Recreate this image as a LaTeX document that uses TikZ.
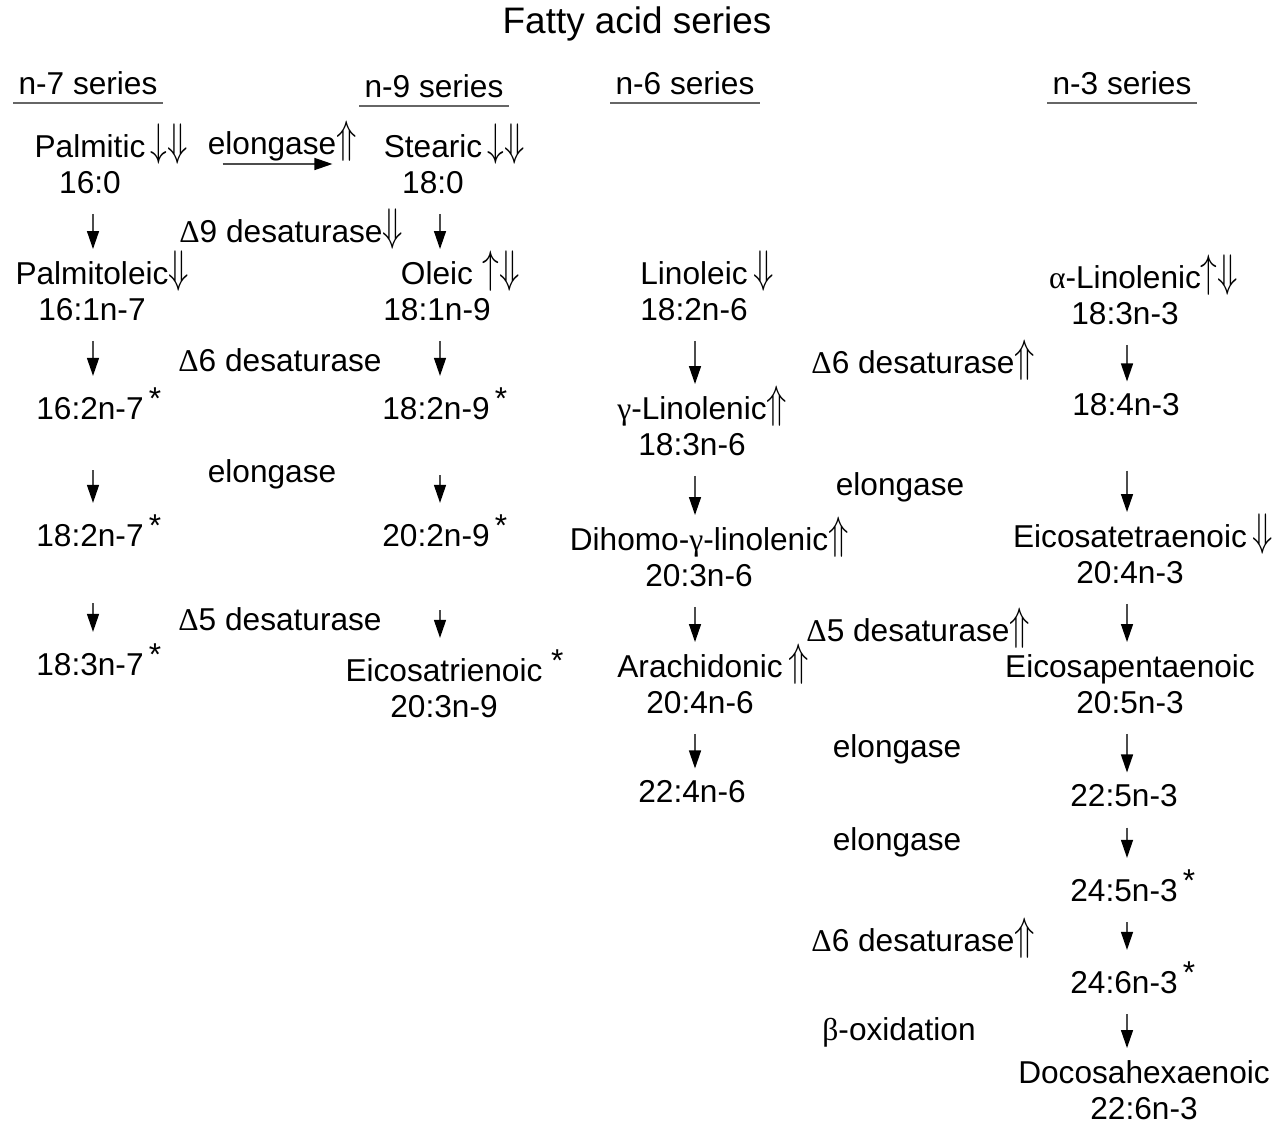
\documentclass[tikz,border=0pt]{standalone}
\usepackage{fontspec}
\setmainfont{Liberation Sans}
\newfontfamily\grkfont{Liberation Serif}
\usepackage{tikz}
\usetikzlibrary{arrows.meta, calc}

\newcommand{\fs}{\fontsize{18}{20.5}\selectfont}
\newcommand{\gr}[1]{{\grkfont #1}}
\newcommand{\reg}[1]{\rlap{\smash{\raisebox{0.05em}{\scalebox{1.1}[1.5]{$#1$}}}}}
\newcommand{\nstar}{\rlap{\,\raisebox{.3em}{*}}}

\begin{document}
\begin{tikzpicture}[x=0.02cm, y=-0.02cm,
  fa/.style={align=center, inner sep=0pt, font=\fs},
  enz/.style={inner sep=0pt, font=\fs},
  hdr/.style={font=\fs, inner xsep=0.1cm, inner ysep=0.17cm},
  uline/.style={draw=black!60, line width=1.1pt},
  conv/.style={-{Triangle[length=3.6mm,width=2.4mm,color=black]}, draw=black!70,
    line width=0.8pt, shorten <=4mm, shorten >=2.4mm}]
  \useasboundingbox (0,0) rectangle (1280,1136);

  % title and series
  \node[font=\fontsize{21}{24}\selectfont] (title) at (637,24) {Fatty acid series};
  \node[hdr] (h7) at (88,83) {n-7 series};
  \node[hdr] (h9) at (434,86) {n-9 series};
  \node[hdr] (h6) at (685,83) {n-6 series};
  \node[hdr] (h3) at (1122,83) {n-3 series};
  \draw[uline] (h7.south west) -- (h7.south east);
  \draw[uline] (h9.south west) -- (h9.south east);
  \draw[uline] (h6.south west) -- (h6.south east);
  \draw[uline] (h3.south west) -- (h3.south east);

  % columns
  \coordinate (c7) at (93,0);
  \coordinate (c9) at (440,0);
  \coordinate (c6) at (695,0);
  \coordinate (c3) at (1127,0);

  % n-7
  \node[fa] (palm) at (90,164) {Palmitic\reg{\,\downarrow\Downarrow}\\16:0};
  \node[fa] (ptol) at (92,291) {Palmitoleic\reg{\Downarrow}\\16:1n-7};
  \node[fa] (a162) at (90,404) {16:2n-7\nstar};
  \node[fa] (a182) at (90,531) {18:2n-7\nstar};
  \node[fa] (a183) at (90,660) {18:3n-7\nstar};

  % n-9
  \node[fa] (stear) at (433,164) {Stearic\reg{\,\downarrow\Downarrow}\\18:0};
  \node[fa] (oleic) at (437,291) {Oleic\reg{\ \uparrow\Downarrow}\\18:1n-9};
  \node[fa] (b182) at (436,404) {18:2n-9\nstar};
  \node[fa] (b202) at (436,531) {20:2n-9\nstar};
  \node[fa] (eitri) at (444,684) {Eicosatrienoic\rlap{\ \raisebox{.3em}{*}}\\20:3n-9};

  % n-6
  \node[fa] (linol) at (694,291) {Linoleic\reg{\,\Downarrow}\\18:2n-6};
  \node[fa] (gla) at (692,426) {\gr{γ}-Linolenic\reg{\Uparrow}\\18:3n-6};
  \node[fa] (dgla) at (699,557) {Dihomo-\gr{γ}-linolenic\reg{\Uparrow}\\20:3n-6};
  \node[fa] (arach) at (700,684) {Arachidonic\reg{\,\Uparrow}\\20:4n-6};
  \node[fa] (c224) at (692,792) {22:4n-6};

  % n-3
  \node[fa] (ala) at (1125,295) {\gr{α}-Linolenic\reg{\uparrow\Downarrow}\\18:3n-3};
  \node[fa] (d184) at (1126,405) {18:4n-3};
  \node[fa] (eta) at (1130,554) {Eicosatetraenoic\reg{\,\Downarrow}\\20:4n-3};
  \node[fa] (epa) at (1130,684) {Eicosapentaenoic\\20:5n-3};
  \node[fa] (dpa) at (1124,796) {22:5n-3};
  \node[fa] (d245) at (1124,886) {24:5n-3\nstar};
  \node[fa] (d246) at (1124,978) {24:6n-3\nstar};
  \node[fa] (dha) at (1144,1090) {Docosahexaenoic\\22:6n-3};

  % enzymes
  \node[enz] (elo1) at (272,146) {elongase\reg{\Uparrow}};
  \node[enz] (des9) at (281,231) {\gr{Δ}9 desaturase\reg{\Downarrow}};
  \node[enz] (des6a) at (280,360) {\gr{Δ}6 desaturase};
  \node[enz] (elo2) at (272,474) {elongase};
  \node[enz] (des5a) at (280,619) {\gr{Δ}5 desaturase};
  \node[enz] (des6b) at (913,362) {\gr{Δ}6 desaturase\reg{\Uparrow}};
  \node[enz] (elo3) at (900,487) {elongase};
  \node[enz] (des5b) at (908,630) {\gr{Δ}5 desaturase\reg{\Uparrow}};
  \node[enz] (elo4) at (897,749) {elongase};
  \node[enz] (elo5) at (897,842) {elongase};
  \node[enz] (des6c) at (913,940) {\gr{Δ}6 desaturase\reg{\Uparrow}};
  \node[enz] (boxi) at (899,1032) {\gr{β}-oxidation};

  % conversions
  \draw[conv, shorten <=1.54cm, shorten >=1.02cm] (palm) -- (stear);
  \draw[conv] (palm.south -| c7) -- (ptol.north -| c7);
  \draw[conv] (ptol.south -| c7) -- (a162.north -| c7);
  \draw[conv, shorten <=1cm] (a162.south -| c7) -- (a182.north -| c7);
  \draw[conv, shorten <=1.12cm] (a182.south -| c7) -- (a183.north -| c7);

  \draw[conv] (stear.south -| c9) -- (oleic.north -| c9);
  \draw[conv] (oleic.south -| c9) -- (b182.north -| c9);
  \draw[conv, shorten <=1.1cm] (b182.south -| c9) -- (b202.north -| c9);
  \draw[conv, shorten <=1.26cm] (b202.south -| c9) -- (eitri.north -| c9);

  \draw[conv] (linol.south -| c6) -- (gla.north -| c6);
  \draw[conv] (gla.south -| c6) -- (dgla.north -| c6);
  \draw[conv] (dgla.south -| c6) -- (arach.north -| c6);
  \draw[conv] (arach.south -| c6) -- (c224.north -| c6);

  \draw[conv] (ala.south -| c3) -- (d184.north -| c3);
  \draw[conv, shorten <=1.08cm] (d184.south -| c3) -- (eta.north -| c3);
  \draw[conv] (eta.south -| c3) -- (epa.north -| c3);
  \draw[conv] (epa.south -| c3) -- (dpa.north -| c3);
  \draw[conv] (dpa.south -| c3) -- (d245.north -| c3);
  \draw[conv] (d245.south -| c3) -- (d246.north -| c3);
  \draw[conv] (d246.south -| c3) -- (dha.north -| c3);
\end{tikzpicture}
\end{document}
